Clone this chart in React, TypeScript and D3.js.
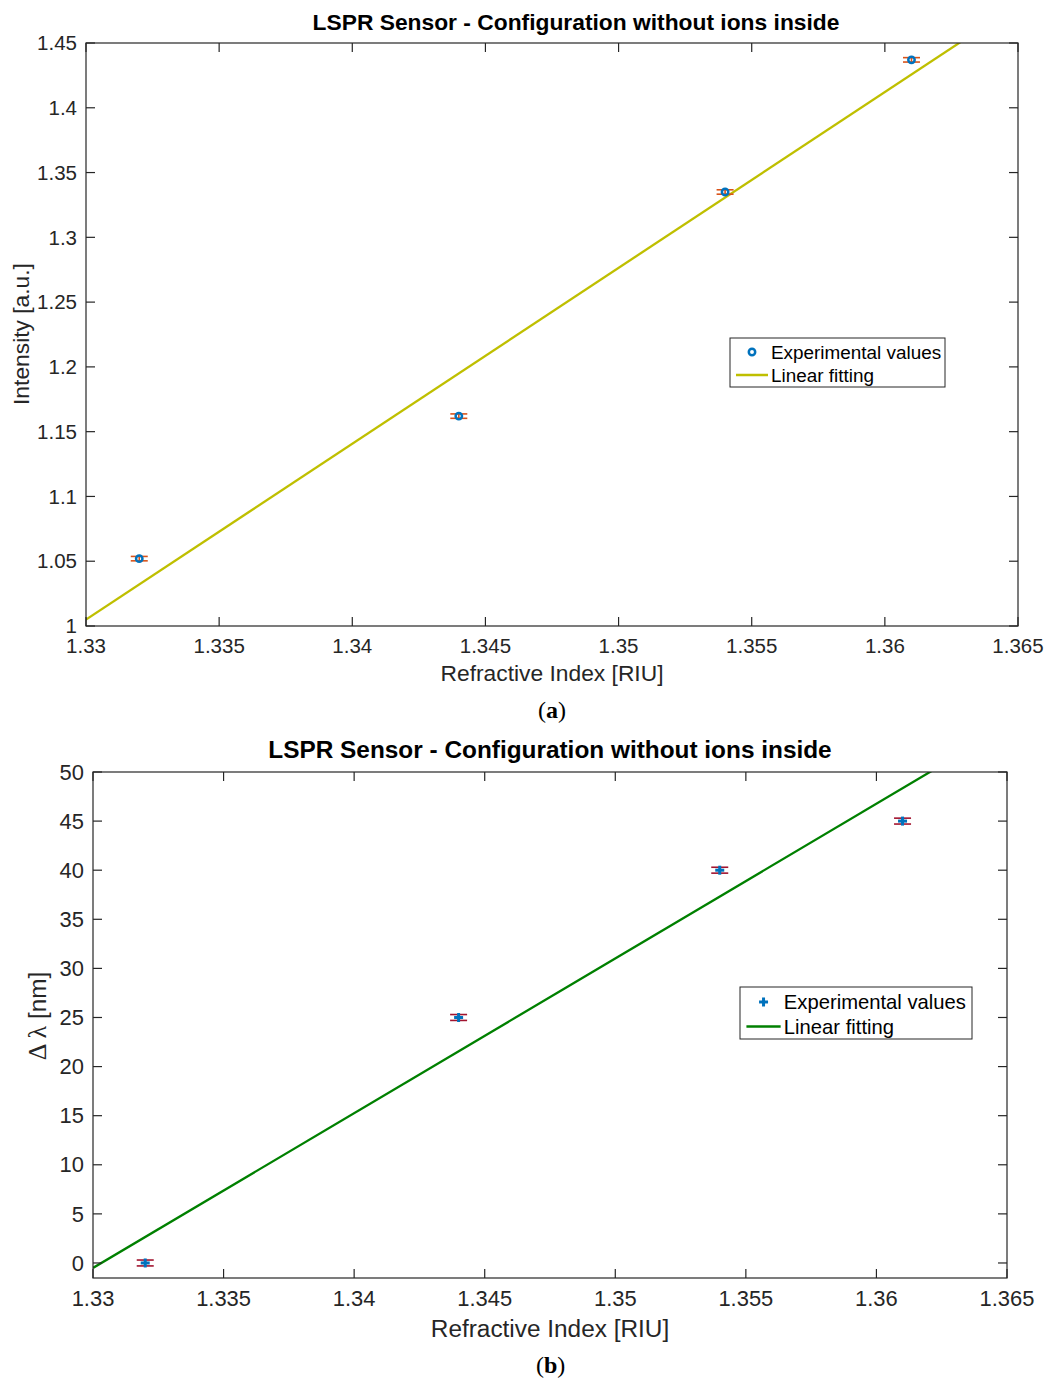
import React from 'react';
import * as d3 from 'd3';

// values
const refractiveIndex = [1.332, 1.344, 1.354, 1.361];
const intensity = [1.052, 1.162, 1.335, 1.437];
const intensityErr = [0.0017, 0.0017, 0.0017, 0.0017];
const wavelengthShift = [0, 25, 40, 45];
const shiftErr = [0.3, 0.3, 0.3, 0.3];

// linear fits, given by their end points
const fitX = [1.33, 1.365];
const intensityFitY = [1.005, 1.48];
const shiftFitY = [-0.5, 54.65];

const xTicks = [1.33, 1.335, 1.34, 1.345, 1.35, 1.355, 1.36, 1.365];
const intensityTicks = [1, 1.05, 1.1, 1.15, 1.2, 1.25, 1.3, 1.35, 1.4, 1.45];
const shiftTicks = [0, 5, 10, 15, 20, 25, 30, 35, 40, 45, 50];

const TITLE = 'LSPR Sensor - Configuration without ions inside';
const SANS = '"Liberation Sans", Arial, Helvetica, sans-serif';
const SERIF = '"Liberation Serif", "DejaVu Serif", serif';
const INK = '#262626';

interface PanelProps {
  id: string;
  box: { left: number; right: number; top: number; bottom: number };
  yDomain: [number, number];
  yTicks: number[];
  ys: number[];
  errs: number[];
  fitY: number[];
  fitColor: string;
  errColor: string;
  marker: 'circle' | 'plus';
  yLabel: React.ReactNode;
  yLabelX: number;
  yLabelY: number;
  titleX: number;
  scale: number;
  legend: { x: number; y: number; w: number; h: number };
  label: string;
  labelY: number;
}

const Panel: React.FC<PanelProps> = p => {
  const { box, scale: s } = p;
  const x = d3.scaleLinear().domain([1.33, 1.365]).range([box.left, box.right]);
  const y = d3.scaleLinear().domain(p.yDomain).range([box.bottom, box.top]);
  const tickFs = 20.5 * s;
  const labelFs = 22.8 * s;
  const tickLen = 9;
  const fmtX = (v: number) => String(+v.toFixed(3));
  const fmtY = (v: number) => String(+v.toFixed(2));
  const line = d3.line<number>().x((_, i) => x(fitX[i])).y(d => y(d));
  const cx = (box.left + box.right) / 2;

  const drawMarker = (px: number, py: number, key: string | number) =>
    p.marker === 'circle' ? (
      <circle key={key} cx={px} cy={py} r={3.2} fill="none" stroke="#0072BD" strokeWidth={2.5} />
    ) : (
      <g key={key} stroke="#0072BD" strokeWidth={3}>
        <line x1={px - 4.5} x2={px + 4.5} y1={py} y2={py} />
        <line x1={px} x2={px} y1={py - 4.5} y2={py + 4.5} />
      </g>
    );

  const lg = p.legend;
  return (
    <g>
      <defs>
        <clipPath id={`clip-${p.id}`}>
          <rect x={box.left} y={box.top} width={box.right - box.left} height={box.bottom - box.top} />
        </clipPath>
      </defs>
      <rect x={box.left} y={box.top} width={box.right - box.left} height={box.bottom - box.top} fill="#fff" />

      {/* fit line */}
      <path
        d={line(p.fitY) || ''}
        fill="none"
        stroke={p.fitColor}
        strokeWidth={2.3}
        clipPath={`url(#clip-${p.id})`}
      />

      {/* error bars + markers */}
      {refractiveIndex.map((r, i) => {
        const px = x(r);
        const y0 = y(p.ys[i] - p.errs[i]);
        const y1 = y(p.ys[i] + p.errs[i]);
        return (
          <g key={i}>
            <g stroke={p.errColor} strokeWidth={1.6}>
              <line x1={px} x2={px} y1={y0} y2={y1} />
              <line x1={px - 8.5} x2={px + 8.5} y1={y0} y2={y0} />
              <line x1={px - 8.5} x2={px + 8.5} y1={y1} y2={y1} />
            </g>
            {drawMarker(px, y(p.ys[i]), 'm' + i)}
          </g>
        );
      })}

      {/* axes box and ticks */}
      <rect
        x={box.left}
        y={box.top}
        width={box.right - box.left}
        height={box.bottom - box.top}
        fill="none"
        stroke={INK}
        strokeWidth={1.2}
      />
      <g stroke={INK} strokeWidth={1.2}>
        {xTicks.map(t => (
          <g key={'xt' + t}>
            <line x1={x(t)} x2={x(t)} y1={box.bottom} y2={box.bottom - tickLen} />
            <line x1={x(t)} x2={x(t)} y1={box.top} y2={box.top + tickLen} />
          </g>
        ))}
        {p.yTicks.map(t => (
          <g key={'yt' + t}>
            <line x1={box.left} x2={box.left + tickLen} y1={y(t)} y2={y(t)} />
            <line x1={box.right} x2={box.right - tickLen} y1={y(t)} y2={y(t)} />
          </g>
        ))}
      </g>
      <g fontFamily={SANS} fontSize={tickFs} fill={INK}>
        {xTicks.map(t => (
          <text key={'xl' + t} x={x(t)} y={box.bottom + 12} dy="0.71em" textAnchor="middle">
            {fmtX(t)}
          </text>
        ))}
        {p.yTicks.map(t => (
          <text key={'yl' + t} x={box.left - 9} y={y(t)} dy="0.35em" textAnchor="end">
            {fmtY(t)}
          </text>
        ))}
      </g>

      {/* labels */}
      <text
        x={cx}
        y={box.bottom + 55 * s}
        textAnchor="middle"
        fontFamily={SANS}
        fontSize={labelFs}
        fill={INK}
      >
        Refractive Index [RIU]
      </text>
      <text
        transform={`translate(${p.yLabelX},${p.yLabelY}) rotate(-90)`}
        textAnchor="middle"
        fontFamily={SANS}
        fontSize={labelFs}
        fill={INK}
      >
        {p.yLabel}
      </text>
      <text
        x={p.titleX}
        y={box.top - 13 * s}
        textAnchor="middle"
        fontFamily={SANS}
        fontWeight="bold"
        fontSize={22.8 * s}
        fill="#000"
      >
        {TITLE}
      </text>

      {/* legend */}
      <g>
        <rect x={lg.x} y={lg.y} width={lg.w} height={lg.h} fill="#fff" stroke={INK} strokeWidth={1} />
        {drawMarker(lg.x + 22 * s, lg.y + 14 * s, 'lgm')}
        <line
          x1={lg.x + 6 * s}
          x2={lg.x + 38 * s}
          y1={lg.y + 37 * s}
          y2={lg.y + 37 * s}
          stroke={p.fitColor}
          strokeWidth={2.5}
        />
        <g fontFamily={SANS} fontSize={18.9 * s} fill="#000">
          <text x={lg.x + 41 * s} y={lg.y + 14 * s} dy="0.35em">Experimental values</text>
          <text x={lg.x + 41 * s} y={lg.y + 37 * s} dy="0.35em">Linear fitting</text>
        </g>
      </g>

      {/* panel label */}
      <text x={cx - 14} y={p.labelY} fontFamily={SERIF} fontSize={24} fill="#000">
        (<tspan fontWeight="bold">{p.label}</tspan>)
      </text>
    </g>
  );
};

export default function App() {
  return (
    <svg
      width={1046}
      height={1381}
      style={{ position: 'absolute', left: 0, top: 0, background: '#fff' }}
    >
      <rect width={1046} height={1381} fill="#fff" />
      <Panel
        id="a"
        box={{ left: 86, right: 1018, top: 43, bottom: 626 }}
        yDomain={[1, 1.45]}
        yTicks={intensityTicks}
        ys={intensity}
        errs={intensityErr}
        fitY={intensityFitY}
        fitColor="#BFBF00"
        errColor="#D95319"
        marker="circle"
        yLabel="Intensity [a.u.]"
        yLabelX={29}
        yLabelY={334}
        titleX={576}
        scale={1}
        legend={{ x: 730, y: 338, w: 215, h: 49 }}
        label="a"
        labelY={718}
      />
      <Panel
        id="b"
        box={{ left: 93, right: 1007, top: 772, bottom: 1278 }}
        yDomain={[-1.53, 50]}
        yTicks={shiftTicks}
        ys={wavelengthShift}
        errs={shiftErr}
        fitY={shiftFitY}
        fitColor="#008000"
        errColor="#A2142F"
        marker="plus"
        yLabel={
          <>
            <tspan fontFamily={SERIF} fontSize={26}>Δ λ</tspan>
            <tspan> [nm]</tspan>
          </>
        }
        yLabelX={46}
        yLabelY={1016}
        titleX={550}
        scale={1.07}
        legend={{ x: 740, y: 987, w: 232, h: 52 }}
        label="b"
        labelY={1373}
      />
    </svg>
  );
}
